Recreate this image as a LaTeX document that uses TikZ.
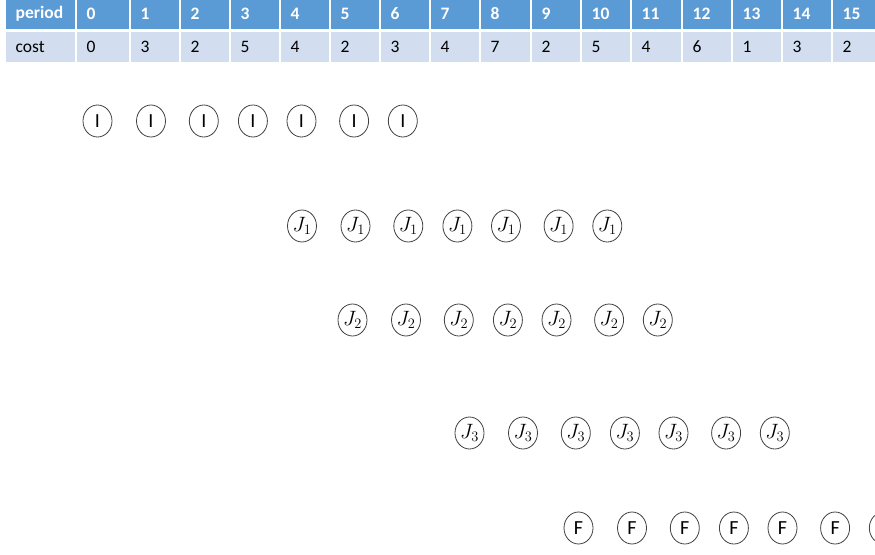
\documentclass[tikz,border=0pt]{standalone}
\usepackage{fontspec}
\setmainfont{Carlito}
\usetikzlibrary{shapes.geometric}
\definecolor{hdrblue}{HTML}{5B9BD5}
\definecolor{rowblue}{HTML}{D2DEEF}
\tikzset{
  hdrfill/.style={fill=hdrblue},
  rowfill/.style={fill=rowblue},
  hdrtxt/.style={anchor=west, inner sep=0pt, text=white, font=\fontsize{17.5}{19}\selectfont\bfseries},
  rowtxt/.style={anchor=west, inner sep=0pt, text=black, font=\fontsize{17.5}{19}\selectfont},
  stnode/.style={ellipse, draw=black!75, line width=0.8pt, minimum width=29pt, minimum height=32pt, inner sep=0pt, font=\fontsize{20}{22}\selectfont}
}
\begin{document}
\begin{tikzpicture}[x=1pt,y=-1pt]
\useasboundingbox (0,0) rectangle (875,554);
\foreach \l/\r/\h/\c [count=\k] in {6/75/period/cost, 77/129/0/0, 131/179/1/3, 181/229/2/2, 231/279/3/5, 281/329/4/4, 331/379/5/2, 381/429/6/3, 431/479/7/4, 481/530/8/7, 532/580/9/2, 582/630/10/5, 632/681/11/4, 683/731/12/6, 733/781/13/1, 783/831/14/3, 833/885/15/2}{
  \fill[hdrfill] (\l,0) rectangle (\r,28.5);
  \fill[rowfill] (\l,31.5) rectangle (\r,62);
  \node[hdrtxt] (h\k) at (\l+9.5,14) {\h};
  \node[rowtxt] (c\k) at (\l+9.5,47) {\c};
}
\foreach \nm/\x/\y/\lab in {I/97.5/121/I, Ja/302/226/$J_1$, Jb/352.5/320/$J_2$, Jc/469.5/433/$J_3$, F/578.5/528/F}{
  \foreach \dx [count=\j] in {0,53.5,106.3,155.4,204,256.6,305.3}{
    \node[stnode] (\nm\j) at (\x+\dx,\y) {\lab};
  }
}
\end{tikzpicture}
\end{document}
